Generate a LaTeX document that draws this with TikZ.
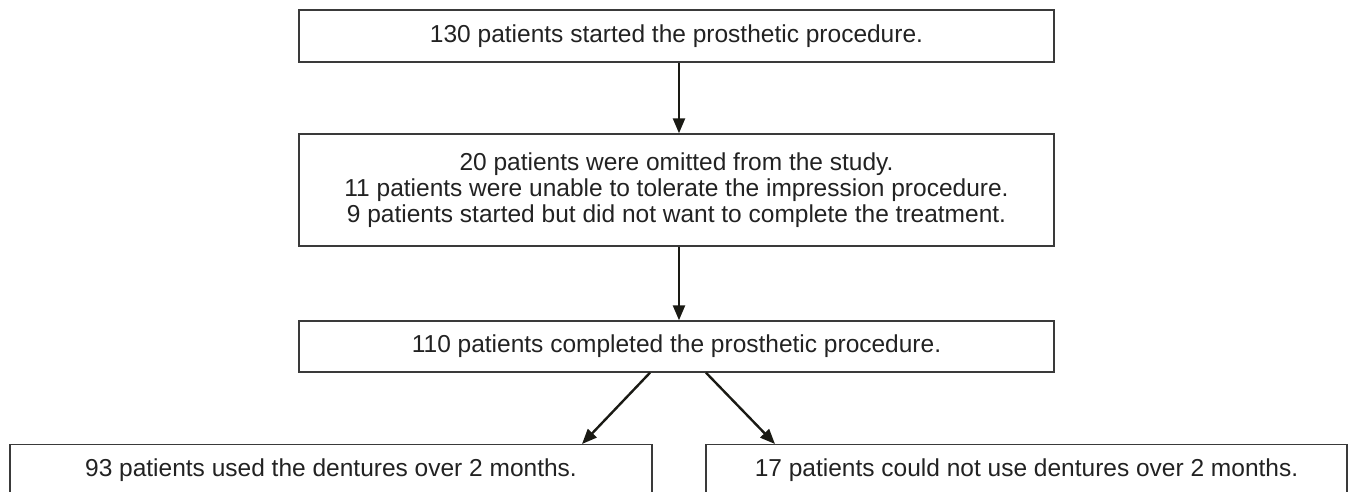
\documentclass[tikz,border=0pt]{standalone}
\usepackage{fontspec}
\setmainfont{Liberation Sans}
\usetikzlibrary{arrows.meta, positioning}
\definecolor{boxline}{HTML}{3A3A3A}
\definecolor{arrowline}{HTML}{1A1A14}
\definecolor{txt}{HTML}{222222}
\tikzset{
  process/.style={rectangle, draw=boxline, line width=1.4pt, text=txt, align=center, inner sep=0,
    font=\fontsize{24.5}{26}\selectfont},
  flow/.style={draw=arrowline, line width=2.4pt, -{Triangle[length=15pt,width=12pt]}}
}

\begin{document}
\begin{tikzpicture}[x=1pt, y=-1pt]
      \useasboundingbox (0,0) rectangle (1349,491);
      \clip (0,0) rectangle (1349,491);
      \node[process, minimum width=755, minimum height=52](m1) at (676.5, 36){130 patients started the prosthetic procedure.};
      \node[process, minimum width=755, minimum height=112](m2) at (676.5, 190){20 patients were omitted from the study.\\
        11 patients were unable to tolerate the impression procedure.\\
        9 patients started but did not want to complete the treatment.};
      \node[process, minimum width=755, minimum height=51](m3) at (676.5, 346.5){110 patients completed the prosthetic procedure.};
      
      \node[process, anchor=north, minimum width=642, text height=32pt, text depth=40pt](b1) at (331, 444){93 patients used the dentures over 2 months.};
      \node[process, anchor=north, minimum width=641, text height=32pt, text depth=40pt](b2) at (1026.5, 444){17 patients could not use dentures over 2 months.};
      
      \draw[flow]([xshift=2.5pt]m1.south)--([xshift=2.5pt]m2.north);
      \draw[flow]([xshift=2.5pt]m2.south)--([xshift=2.5pt]m3.north);
      \draw[flow]([xshift=-26.5pt]m3.south)--([xshift=251pt]b1.north);
      \draw[flow]([xshift=29.5pt]m3.south)--([xshift=-251.5pt]b2.north);
    \end{tikzpicture}
\end{document}
